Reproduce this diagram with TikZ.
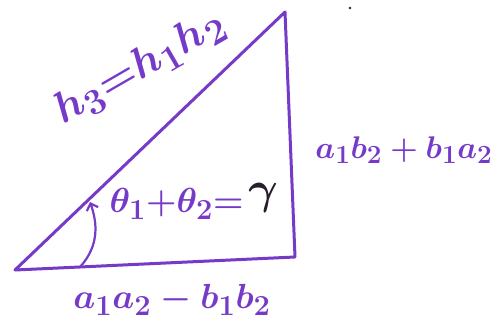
\documentclass[tikz,border=0pt]{standalone}
\usepackage{amsmath}
\usetikzlibrary{arrows.meta}
\definecolor{pen}{RGB}{118,58,200}
\definecolor{ink}{RGB}{40,30,45}
\tikzset{
  edge/.style={draw=pen,line width=3pt,line join=round,line cap=round},
  lbl/.style={text=pen,inner sep=0pt,font=\Huge\boldmath,scale=1.4},
}
\begin{document}
\begin{tikzpicture}[x=1pt,y=-1pt]
\useasboundingbox (0,0) rectangle (498,327);
\coordinate (A) at (15,270);
\coordinate (B) at (295,257);
\coordinate (C) at (285,12);
\draw[edge] (A) -- (B) -- (C) -- cycle;
\coordinate (s) at (80,267);
\coordinate (e) at (90,202);
\draw[draw=pen,line width=2.2pt,line cap=round,-{Straight Barb[length=6pt,width=12pt]}] (s) .. controls (100,245) and (97,222) .. (e);
\node[lbl,rotate=30,scale=1.25] (hyp) at (140,68) {$h_3 {=} h_1 h_2$};
\node[lbl,scale=0.9] (right) at (404,150) {$a_1 b_2 + b_1 a_2$};
\node[lbl] (bottom) at (172,300) {$a_1 a_2 - b_1 b_2$};
\node[lbl,anchor=east] (ang) at (244,204) {$\theta_1 {+} \theta_2 {=}$};
\node[lbl,text=ink,anchor=west,scale=1.3] (gam) at (248,198) {$\gamma$};
\fill[ink] (350,8) circle (1.3pt);
\end{tikzpicture}
\end{document}
